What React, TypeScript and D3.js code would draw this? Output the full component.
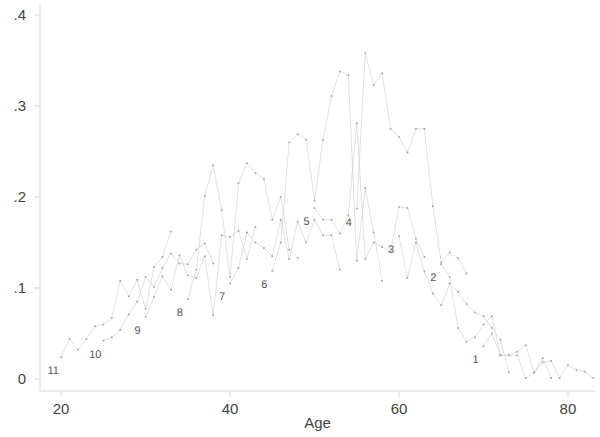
import React from "react";
import * as d3 from "d3";

// Cohort curves: each cohort is followed for 14 consecutive ages.
const cohortIds = [11, 10, 9, 8, 7, 6, 5, 4, 3, 2, 1];
const cohortStartAges = [20, 25, 30, 35, 40, 45, 50, 55, 60, 65, 70];

const cohort11 = [0.024, 0.044, 0.032, 0.044, 0.058, 0.06, 0.067, 0.108, 0.091, 0.109, 0.077, 0.123, 0.134, 0.162];
const cohort10 = [0.042, 0.046, 0.054, 0.071, 0.085, 0.112, 0.101, 0.122, 0.138, 0.127, 0.126, 0.142, 0.149, 0.127];
const cohort9 = [0.068, 0.09, 0.113, 0.098, 0.136, 0.114, 0.111, 0.135, 0.07, 0.158, 0.156, 0.163, 0.132, 0.167];
const cohort8 = [0.088, 0.12, 0.201, 0.235, 0.186, 0.112, 0.215, 0.237, 0.226, 0.22, 0.175, 0.2, 0.142, 0.133];
const cohort7 = [0.105, 0.122, 0.161, 0.15, 0.144, 0.135, 0.175, 0.132, 0.173, 0.15, 0.175, 0.158, 0.158, 0.12];
const cohort6 = [0.119, 0.15, 0.26, 0.269, 0.263, 0.196, 0.263, 0.311, 0.338, 0.334, 0.13, 0.21, 0.161, 0.108];
const cohort5 = [0.188, 0.175, 0.175, 0.16, 0.18, 0.281, 0.132, 0.15, 0.145, 0.14, 0.189, 0.188, 0.154, 0.134];
const cohort4 = [0.187, 0.358, 0.323, 0.336, 0.275, 0.266, 0.249, 0.275, 0.275, 0.19, 0.128, 0.139, 0.133, 0.116];
const cohort3 = [0.157, 0.111, 0.15, 0.118, 0.094, 0.081, 0.105, 0.096, 0.082, 0.073, 0.069, 0.056, 0.043, 0.007];
const cohort2 = [0.126, 0.112, 0.056, 0.041, 0.046, 0.06, 0.069, 0.026, 0.026, 0.03, 0.037, 0.007, 0.023, 0.001];
const cohort1 = [0.036, 0.05, 0.026, 0.026, 0.026, 0.001, 0.007, 0.018, 0.02, 0.001, 0.015, 0.01, 0.008, 0.001];

const cohortValues = [cohort11, cohort10, cohort9, cohort8, cohort7, cohort6, cohort5, cohort4, cohort3, cohort2, cohort1];

const xTicks = [20, 40, 60, 80];
const yTicks = [0, 0.1, 0.2, 0.3, 0.4];
const yTickLabels = ["0", ".1", ".2", ".3", ".4"];
const xTitle = "Age";

const W = 600;
const H = 437;

export default function App() {
  const x = d3.scaleLinear().domain([17.5, 83.2]).range([40, 595]);
  const y = d3.scaleLinear().domain([-0.0132, 0.411]).range([391, 5]);

  const series = cohortIds.map((id, i) => ({
    id,
    points: cohortValues[i].map((v, j) => ({ age: cohortStartAges[i] + j, v })),
  }));

  const line = d3
    .line<{ age: number; v: number }>()
    .x((d) => x(d.age))
    .y((d) => y(d.v));

  const axisColor = "#d6d6d6";
  const textColor = "#444";
  const font = "'Liberation Sans', Arial, sans-serif";

  const [x0, x1] = x.range();
  const [yb, yt] = y.range();

  return (
    <svg
      width={W}
      height={H}
      viewBox={`0 0 ${W} ${H}`}
      style={{ position: "absolute", left: 0, top: 0, background: "#fff" }}
      fontFamily={font}
    >
      <rect width={W} height={H} fill="#fff" />
      {/* axes */}
      <line x1={x0} x2={x0} y1={yt} y2={yb} stroke={axisColor} strokeWidth={1} />
      <line x1={x0} x2={x1} y1={yb} y2={yb} stroke={axisColor} strokeWidth={1} />
      {yTicks.map((t, i) => (
        <g key={"y" + t}>
          <line x1={x0 - 6} x2={x0} y1={y(t)} y2={y(t)} stroke={axisColor} />
          <text
            x={26}
            y={y(t)}
            dy="0.36em"
            textAnchor="end"
            fontSize={15}
            fill={textColor}
          >
            {yTickLabels[i]}
          </text>
        </g>
      ))}
      {xTicks.map((t) => (
        <g key={"x" + t}>
          <line x1={x(t)} x2={x(t)} y1={yb} y2={yb + 6} stroke={axisColor} />
          <text x={x(t)} y={414} textAnchor="middle" fontSize={15} fill={textColor}>
            {t}
          </text>
        </g>
      ))}
      <text x={(x0 + x1) / 2} y={428} textAnchor="middle" fontSize={15} fill={textColor}>
        {xTitle}
      </text>

      {/* cohort lines */}
      {series.map((s) => (
        <path
          key={"l" + s.id}
          d={line(s.points) || ""}
          fill="none"
          stroke="#d2d2d2"
          strokeWidth={0.7}
        />
      ))}
      {series.map((s) => (
        <g key={"p" + s.id}>
          {s.points.map((p) => (
            <circle key={p.age} cx={x(p.age)} cy={y(p.v)} r={1} fill="#a8a8a8" />
          ))}
        </g>
      ))}
      {/* cohort labels at each cohort's first age */}
      {series.map((s) => (
        <text
          key={"t" + s.id}
          x={x(s.points[0].age) - 8}
          y={y(s.points[0].v) + 13}
          dy="0.35em"
          textAnchor="middle"
          fontSize={11}
          fill="#555"
          style={{ WebkitFontSmoothing: "antialiased" }}
          textRendering="geometricPrecision"
        >
          {s.id}
        </text>
      ))}
    </svg>
  );
}
